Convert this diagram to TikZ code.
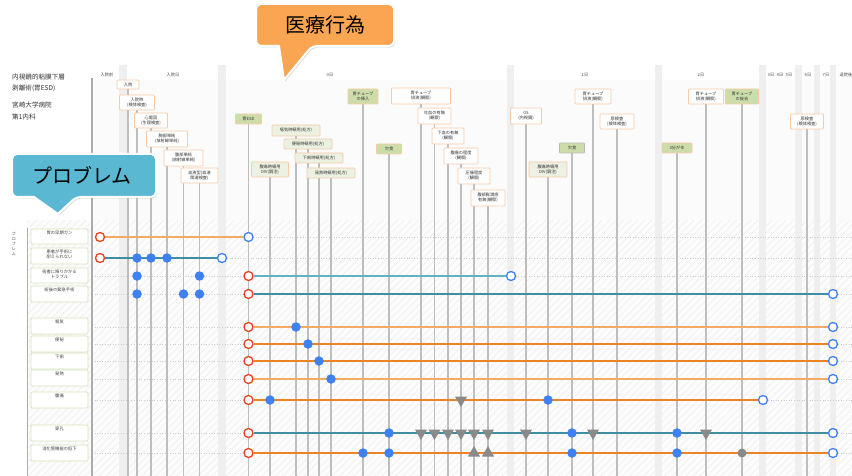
\documentclass[tikz,border=0pt]{standalone}
\usepackage{fontspec}
\newfontfamily\jp{Noto Sans CJK JP}
\usetikzlibrary{shapes.geometric,patterns.meta,shadows}
\definecolor{boxor}{HTML}{F8CBA6}
\definecolor{boxgreen}{HTML}{CDDDAA}
\definecolor{boxpale}{HTML}{ECF1E2}
\definecolor{lgreen}{HTML}{D5E3BD}
\definecolor{vgray}{HTML}{BEBEBE}
\definecolor{cred}{HTML}{E8421E}
\definecolor{cblue}{HTML}{3F80F2}
\definecolor{tgray}{HTML}{8A8A8A}
\definecolor{orA}{HTML}{EC8427}
\definecolor{orB}{HTML}{F3AA66}
\definecolor{tlA}{HTML}{3E8FA1}
\definecolor{tlB}{HTML}{62B2C5}
\definecolor{calor}{HTML}{F9A552}
\definecolor{calbl}{HTML}{5BB8D2}
\definecolor{band}{HTML}{EFEFEF}
\pgfdeclarelayer{bg}
\pgfdeclarelayer{mid}
\pgfsetlayers{bg,mid,main}
\begin{document}
\begin{tikzpicture}[x=1pt,y=-1pt,
  evbox/.style={draw=boxor, line width=0.7pt, fill=white, rounded corners=0.8pt, inner sep=0pt, align=center, text=black!80, font=\jp\fontsize{4.2}{5}\selectfont},
  greenbox/.style={evbox, fill=boxgreen},
  palebox/.style={evbox, fill=boxpale},
  vline/.style={draw=vgray, line width=1.1pt},
  rowdot/.style={draw=gray!40, line width=0.6pt, dotted},
  plabel/.style={draw=lgreen, line width=0.9pt, fill=white, rounded corners=1pt, inner sep=0pt, text=black!75, font=\jp\fontsize{4.3}{5.4}\selectfont},
  daylbl/.style={inner sep=0pt, text=black!70, font=\jp\fontsize{4.2}{5}\selectfont},
  ttl/.style={inner sep=0pt, anchor=west, text=black!80, font=\jp\fontsize{6.6}{7}\selectfont},
  ropen/.style={circle, draw=cred, line width=1.3pt, fill=white, minimum size=9pt, inner sep=0pt},
  bopen/.style={circle, draw=cblue, line width=1.3pt, fill=white, minimum size=9pt, inner sep=0pt},
  bdot/.style={circle, fill=cblue, minimum size=9.5pt, inner sep=0pt},
  gdot/.style={circle, fill=tgray, minimum size=9pt, inner sep=0pt},
  tdown/.style={regular polygon, regular polygon sides=3, shape border rotate=180, fill=tgray, minimum size=14pt, inner sep=0pt},
  tup/.style={regular polygon, regular polygon sides=3, fill=tgray, minimum size=14pt, inner sep=0pt},
  rl/.style={line width=1.2pt}
]
\useasboundingbox (0,0) rectangle (852,476);
\begin{pgfonlayer}{bg}
\fill[white] (0,0) rectangle (852,476);
\fill[gray!3] (92,80) rectangle (852,220);
\fill[gray!2] (27,220) rectangle (852,476);
\fill[pattern={Lines[angle=45,distance=5pt,line width=0.5pt]}, pattern color=gray!14] (27,220) rectangle (852,476);
\foreach \a/\b in {119/127,218/226,507/514,655/662,759/766,795/802,814/820,830/836}
  \fill[band] (\a,65) rectangle (\b,476);
\foreach \y in {237,258,276,294,327,344,361,379,400,433,453}
  \draw[rowdot] (92,\y) -- (852,\y);
\draw[gray!65, line width=1.4pt] (92,78) -- (92,476);
\draw[gray!65, line width=1pt] (27,228) -- (27,476);
\end{pgfonlayer}

% title
\node[ttl] (t1) at (12,77) {内視鏡的粘膜下層};
\node[ttl] (t2) at (12,88) {剥離術(胃ESD)};
\node[ttl] (t3) at (12,105) {宮崎大学病院};
\node[ttl] (t4) at (12,117) {第1内科};
\node[daylbl, align=center, font=\jp\fontsize{4}{5.2}\selectfont] (pv) at (14,244) {プ\\ロ\\ブ\\レ\\ム};

% day labels
\node[daylbl] (d1) at (107,75) {入院前};
\node[daylbl] (d2) at (173,75) {入院日};
\node[daylbl] (d3) at (330,75) {0日};
\node[daylbl] (d4) at (585,75) {1日};
\node[daylbl] (d5) at (701,75) {2日};
\node[daylbl] (d6) at (771,75) {3日};
\node[daylbl] (d7) at (780,75) {4日};
\node[daylbl] (d8) at (789,75) {5日};
\node[daylbl] (d9) at (808,75) {6日};
\node[daylbl] (d10) at (826,75) {7日};
\node[daylbl] (d11) at (846,75) {退院後};

% event boxes
\node[evbox, minimum width=22pt, minimum height=9pt] (nyuin) at (128,84.5) {入院};
\node[evbox, minimum width=35pt, minimum height=15pt] (nyuinji) at (137,102.5) {入院時\\(検体検査)};
\node[evbox, minimum width=33pt, minimum height=15pt] (ecg) at (151,120.5) {心電図\\(生理検査)};
\node[evbox, minimum width=41pt, minimum height=16pt] (chest) at (167,139) {胸部単純\\(放射線単純)};
\node[evbox, minimum width=39pt, minimum height=16pt] (abd) at (183.5,158) {腹部単純\\(放射線単純)};
\node[evbox, minimum width=37pt, minimum height=15pt] (blood) at (199.5,175.5) {血液型(血液\\関連検査)};

\node[greenbox, minimum width=26pt, minimum height=10pt] (esd) at (248.5,119) {胃ESD};
\node[palebox, minimum width=48pt, minimum height=11pt] (nausea) at (296,130.5) {嘔気時頓用(処方)};
\node[palebox, minimum width=48pt, minimum height=10pt] (constip) at (308,144) {便秘時頓用(処方)};
\node[palebox, minimum width=48pt, minimum height=10pt] (diarr) at (319,158) {下痢時頓用(処方)};
\node[palebox, minimum width=48pt, minimum height=10pt] (fever) at (331,173) {発熱時頓用(処方)};
\node[palebox, minimum width=37pt, minimum height=15pt] (painDiv) at (270,169.5) {腹痛時頓用\\DIV(調注)};
\node[greenbox, minimum width=30pt, minimum height=15pt] (tubeIn) at (363,96.5) {胃チューブ\\の挿入};
\node[greenbox, minimum width=25pt, minimum height=10pt] (fast0) at (389,149) {欠食};
\node[evbox, minimum width=59pt, minimum height=16pt] (drain0) at (421,96) {胃チューブ\\排液(観察)};
\node[evbox, minimum width=33pt, minimum height=16pt] (hemat) at (434.5,116) {吐血の有無\\(観察)};
\node[evbox, minimum width=32pt, minimum height=16pt] (melena) at (448,136) {下血の有無\\(観察)};
\node[evbox, minimum width=34pt, minimum height=16pt] (pain) at (461,156) {腹痛の程度\\(観察)};
\node[evbox, minimum width=32pt, minimum height=16pt] (tender) at (474,176) {圧痛程度\\(観察)};
\node[evbox, minimum width=34pt, minimum height=16pt] (bloat) at (488,198) {腹部膨満感\\有無(観察)};

\node[evbox, minimum width=31pt, minimum height=16pt] (gs) at (526,116) {GS\\(内視鏡)};
\node[palebox, minimum width=38pt, minimum height=15pt] (painDivB) at (548,169.5) {腹痛時頓用\\DIV(調注)};
\node[greenbox, draw=gray!55, minimum width=25pt, minimum height=10pt] (fast1) at (572,148) {欠食};
\node[evbox, minimum width=36pt, minimum height=15pt] (drain1) at (593,96.5) {胃チューブ\\排液(観察)};
\node[evbox, minimum width=34pt, minimum height=15pt] (urine1) at (617,121.5) {尿検査\\(検体検査)};

\node[greenbox, minimum width=30pt, minimum height=10pt] (diet) at (677,148) {3分がゆ};
\node[evbox, minimum width=35pt, minimum height=15pt] (drain2) at (706,96.5) {胃チューブ\\排液(観察)};
\node[greenbox, minimum width=33pt, minimum height=15pt] (tubeOut) at (742,96.5) {胃チューブ\\の抜去};
\node[evbox, minimum width=33pt, minimum height=15pt] (urine6) at (807,121.5) {尿検査\\(検体検査)};

\coordinate (bot) at (0,476);
\begin{pgfonlayer}{bg}
\foreach \b in {nyuin,nyuinji,ecg,chest,abd,blood,esd,nausea,constip,diarr,fever,painDiv,tubeIn,fast0,drain0,hemat,melena,pain,tender,bloat,gs,painDivB,fast1,drain1,urine1,diet,drain2,tubeOut,urine6}
  \draw[vline] (\b.south) -- (\b.south |- bot);
\end{pgfonlayer}

% problem labels
\newcommand\plab[4]{\node[plabel] (#1) at (59.5,#2) {\parbox[c][#3][t]{57pt}{\centering\vspace{1.6pt}#4}};}
\plab{p1}{236.5}{15pt}{胃の早期ガン}
\plab{p2}{256}{16pt}{患者が手術に\\耐えられない}
\plab{p3}{275.5}{15pt}{術者に降りかかる\\トラブル}
\plab{p4}{294}{16pt}{術後の緊急手術}
\plab{p5}{326}{16pt}{嘔気}
\plab{p6}{344}{16pt}{便秘}
\plab{p7}{361}{16pt}{下痢}
\plab{p8}{378}{16pt}{発熱}
\plab{p9}{400}{16pt}{腹痛}
\plab{p10}{433}{16pt}{穿孔}
\plab{p11}{453}{16pt}{消化管機能の低下}

% rows and special x positions
\coordinate (r1) at (0,237); \coordinate (r2) at (0,258); \coordinate (r3) at (0,276);
\coordinate (r4) at (0,294); \coordinate (r5) at (0,327); \coordinate (r6) at (0,344);
\coordinate (r7) at (0,361); \coordinate (r8) at (0,379); \coordinate (r9) at (0,400);
\coordinate (r10) at (0,433); \coordinate (r11) at (0,453);
\coordinate (xa) at (100,0); \coordinate (xb) at (222,0); \coordinate (xc) at (511,0);
\coordinate (xd) at (763,0); \coordinate (xe) at (833,0);

% start / end circles
\node[ropen] (s1) at (xa |- r1) {}; \node[bopen] (e1) at (esd |- r1) {};
\node[ropen] (s2) at (xa |- r2) {}; \node[bopen] (e2) at (xb |- r2) {};
\node[ropen] (s3) at (esd |- r3) {}; \node[bopen] (e3) at (xc |- r3) {};
\node[ropen] (s4) at (esd |- r4) {}; \node[bopen] (e4) at (xe |- r4) {};
\node[ropen] (s5) at (esd |- r5) {}; \node[bopen] (e5) at (xe |- r5) {};
\node[ropen] (s6) at (esd |- r6) {}; \node[bopen] (e6) at (xe |- r6) {};
\node[ropen] (s7) at (esd |- r7) {}; \node[bopen] (e7) at (xe |- r7) {};
\node[ropen] (s8) at (esd |- r8) {}; \node[bopen] (e8) at (xe |- r8) {};
\node[ropen] (s9) at (esd |- r9) {}; \node[bopen] (e9) at (xd |- r9) {};
\node[ropen] (s10) at (esd |- r10) {}; \node[bopen] (e10) at (xe |- r10) {};
\node[ropen] (s11) at (esd |- r11) {}; \node[bopen] (e11) at (xe |- r11) {};

\begin{pgfonlayer}{mid}
\draw[rl, orB] (s1) -- (e1);
\draw[rl, tlA] (s2) -- (e2);
\draw[rl, tlB] (s3) -- (e3);
\draw[rl, tlA] (s4) -- (e4);
\draw[rl, orB] (s5) -- (e5);
\draw[rl, orA] (s6) -- (e6);
\draw[rl, orA] (s7) -- (e7);
\draw[rl, orB] (s8) -- (e8);
\draw[rl, orA] (s9) -- (e9);
\draw[rl, tlA] (s10) -- (e10);
\draw[rl, orA] (s11) -- (e11);
\end{pgfonlayer}

% markers
\node[bdot] (m2a) at (nyuinji |- r2) {};
\node[bdot] (m2b) at (ecg |- r2) {};
\node[bdot] (m2c) at (chest |- r2) {};
\node[bdot] (m3a) at (nyuinji |- r3) {};
\node[bdot] (m3b) at (blood |- r3) {};
\node[bdot] (m4a) at (nyuinji |- r4) {};
\node[bdot] (m4b) at (abd |- r4) {};
\node[bdot] (m4c) at (blood |- r4) {};
\node[bdot] (m5) at (nausea |- r5) {};
\node[bdot] (m6) at (constip |- r6) {};
\node[bdot] (m7) at (diarr |- r7) {};
\node[bdot] (m8) at (fever |- r8) {};
\node[bdot] (m9a) at (painDiv |- r9) {};
\node[tdown] (m9b) at (pain |- r9) {};
\node[bdot] (m9c) at (painDivB |- r9) {};
\node[bdot] (m10a) at (fast0 |- r10) {};
\node[tdown] (m10b) at (drain0 |- r10) {};
\node[tdown] (m10c) at (hemat |- r10) {};
\node[tdown] (m10d) at (melena |- r10) {};
\node[tdown] (m10e) at (pain |- r10) {};
\node[tdown] (m10f) at (tender |- r10) {};
\node[tdown] (m10g) at (bloat |- r10) {};
\node[tdown] (m10h) at (gs |- r10) {};
\node[bdot] (m10i) at (fast1 |- r10) {};
\node[tdown] (m10j) at (drain1 |- r10) {};
\node[bdot] (m10k) at (diet |- r10) {};
\node[tdown] (m10l) at (drain2 |- r10) {};
\node[bdot] (m11a) at (tubeIn |- r11) {};
\node[bdot] (m11b) at (fast0 |- r11) {};
\node[tup] (m11c) at (tender |- r11) {};
\node[tup] (m11d) at (bloat |- r11) {};
\node[bdot] (m11e) at (fast1 |- r11) {};
\node[bdot] (m11f) at (diet |- r11) {};
\node[gdot] (m11g) at (tubeOut |- r11) {};

% callouts
\path[fill=calor, draw=white, line width=2pt, drop shadow={shadow xshift=1.2pt, shadow yshift=-1.5pt, opacity=0.3}]
  (279,46) [rounded corners=5pt] -- (256,46) -- (256,4) -- (394,4) -- (394,46) -- (312,46) [sharp corners] -- (284,80) -- cycle;
\node[inner sep=0pt, font=\jp\fontsize{20}{20}\selectfont] (med) at (325,25) {医療行為};
\path[fill=calbl, draw=white, line width=2pt, drop shadow={shadow xshift=1.2pt, shadow yshift=-1.5pt, opacity=0.3}]
  (34,197) [rounded corners=5pt] -- (12,197) -- (12,154) -- (156,154) -- (156,197) -- (76,197) [sharp corners] -- (58,214) -- cycle;
\node[inner sep=0pt, font=\jp\fontsize{20}{20}\selectfont] (prob) at (82,175) {プロブレム};
\end{tikzpicture}
\end{document}
